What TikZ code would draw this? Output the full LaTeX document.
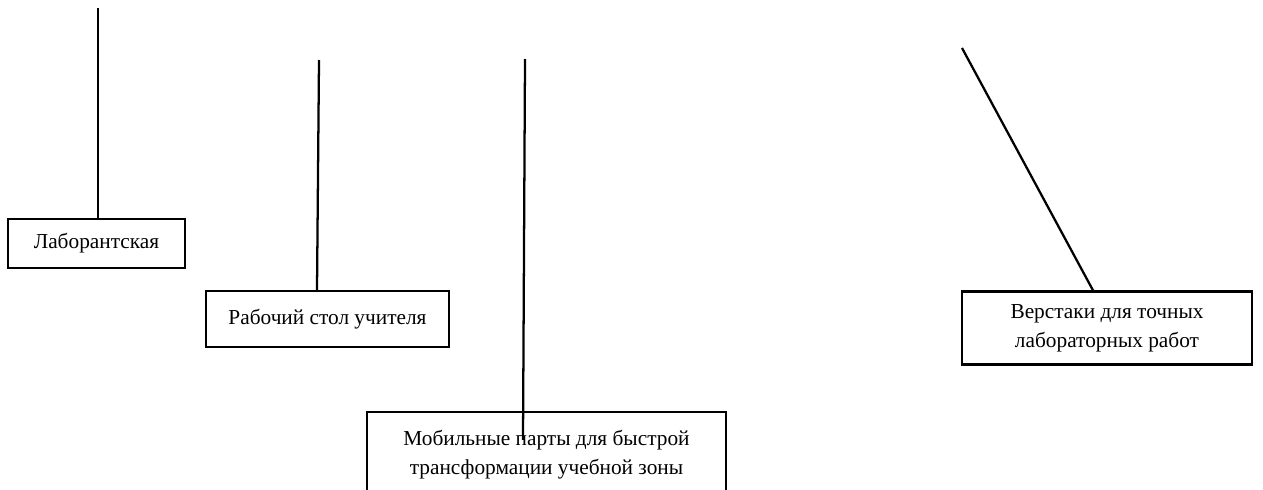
\documentclass[tikz,border=0pt]{standalone}
\usepackage{fontspec}
\setmainfont{Liberation Serif}
\usetikzlibrary{calc}
\newcommand{\pxu}{0.75pt}
\tikzset{
  roombox/.style={draw, line width=1.7pt, inner sep=0pt, align=center, font=\fontsize{16}{21.75}\selectfont},
  leader/.style={line width=1.7pt},
}

\begin{document}
\begin{tikzpicture}[x=\pxu, y=-\pxu]
    \useasboundingbox (0,0) rectangle (1263,489);
    \clip (0,0) rectangle (1263,489);

    \node[roombox, minimum width=177*\pxu, minimum height=49*\pxu] (lab) at (96.5,243.5) {Лаборантская};
    \node[roombox, minimum width=243*\pxu, minimum height=56*\pxu] (desk) at (327.5,319) {Рабочий стол учителя};
    \node[roombox, minimum width=359*\pxu, minimum height=86*\pxu] (mob) at (546.5,455) {Мобильные парты для быстрой\\трансформации учебной зоны};
    \node[roombox, minimum width=290*\pxu, minimum height=73*\pxu] (bench) at (1107,328) {Верстаки для точных\\лабораторных работ};

    \coordinate (labtop) at (98,8);
    \coordinate (desktop) at (319,60);
    \coordinate (mobtop) at (525,59);
    \coordinate (benchtop) at (962,48);

    \draw[leader] (labtop) -- (labtop |- lab.north);
    \draw[leader] (desktop) -- ($(desk.north)+(-10.5,0)$);
    \draw[leader] (mobtop) -- ($(mob.north)+(-23.5,29)$);
    \draw[leader] (benchtop) -- ($(bench.north)+(-14,0)$);
\end{tikzpicture}
\end{document}
